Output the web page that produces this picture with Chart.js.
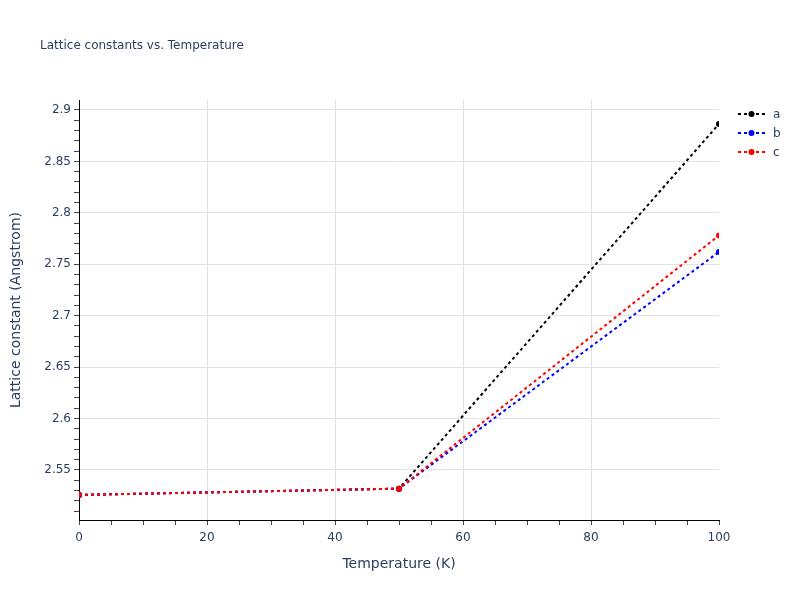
<!DOCTYPE html>
<html>
<head>
<meta charset="utf-8">
<script src="https://cdn.jsdelivr.net/npm/chart.js@4/dist/chart.umd.min.js"></script>
<style>
  body { margin: 0; background: #fff; }
  #wrap { width: 800px; height: 600px; }
</style>
</head>
<body>
<div id="wrap"><canvas id="plot-lattice" width="800" height="600"></canvas></div>
<script>
// values
const temps = [0, 50, 100];
const latticeA = [2.5257, 2.5318, 2.8864];
const latticeB = [2.5257, 2.5318, 2.7620];
const latticeC = [2.5257, 2.5318, 2.7780];

const seriesNames = ['a', 'b', 'c'];
const seriesColors = ['#000000', '#0000ff', '#ff0000'];

const xLabelTicks = [0, 20, 40, 60, 80, 100];
const yLabelTicks = [2.55, 2.6, 2.65, 2.7, 2.75, 2.8, 2.85, 2.9];

const textColor = '#2a3f5f';
const fontFamily = '"DejaVu Sans", verdana, arial, sans-serif';

function toPoints(ys) {
    return temps.map((t, i) => ({ x: t, y: ys[i] }));
}

// minor tick positions: every 5 K and every 0.01 A
const xMinor = [];
for (let v = 0; v <= 100; v += 5) xMinor.push(v);
const yMinor = [];
for (let k = 251; k <= 290; k++) yMinor.push(k / 100);

function isIn(list, v) {
    return list.some(t => Math.abs(t - v) < 1e-6);
}

const titlePlugin = {
    id: 'plotTitle',
    afterDraw(chart) {
        const c = chart.ctx;
        c.save();
        c.font = '12px ' + fontFamily;
        c.fillStyle = textColor;
        c.textAlign = 'left';
        c.textBaseline = 'middle';
        c.fillText('Lattice constants vs. Temperature', 40, 46);
        c.restore();
    }
};

const legendPlugin = {
    id: 'sideLegend',
    afterDraw(chart) {
        const c = chart.ctx;
        c.save();
        seriesNames.forEach((name, i) => {
            const y = 114 + i * 19;
            c.strokeStyle = seriesColors[i];
            c.lineWidth = 2;
            c.setLineDash([3, 3]);
            c.beginPath();
            c.moveTo(738, y);
            c.lineTo(765, y);
            c.stroke();
            c.setLineDash([]);
            c.fillStyle = seriesColors[i];
            c.beginPath();
            c.arc(751.5, y, 3, 0, Math.PI * 2);
            c.fill();
            c.font = '12px ' + fontFamily;
            c.fillStyle = textColor;
            c.textAlign = 'left';
            c.textBaseline = 'middle';
            c.fillText(name, 773, y + 1);
        });
        c.restore();
    }
};

const allSeries = [latticeA, latticeB, latticeC];

var ctx = document.getElementById('plot-lattice').getContext('2d');
var chart = new Chart(ctx, {
    type: 'line',
    data: {
        datasets: allSeries.map((ys, i) => ({
            label: seriesNames[i],
            data: toPoints(ys),
            borderColor: seriesColors[i],
            backgroundColor: seriesColors[i],
            borderWidth: 2,
            borderDash: [3, 3],
            pointRadius: 3,
            pointBorderWidth: 0,
            pointHoverRadius: 3,
            fill: false,
            tension: 0,
            clip: 0,
            order: 3 - i
        }))
    },
    options: {
        responsive: false,
        animation: false,
        devicePixelRatio: 1,
        layout: {
            padding: { left: 0, right: 81, top: 100, bottom: 20 }
        },
        plugins: {
            legend: { display: false },
            title: { display: false },
            tooltip: { enabled: false }
        },
        scales: {
            x: {
                type: 'linear',
                min: 0,
                max: 100,
                afterFit(scale) { scale.height = 60; },
                afterBuildTicks(scale) {
                    scale.ticks = xMinor.map(v => ({ value: v }));
                },
                border: { display: true, color: '#000000', width: 1 },
                grid: {
                    color(c) {
                        const v = c.tick ? c.tick.value : null;
                        return (v !== null && v > 0 && v < 100 && isIn(xLabelTicks, v)) ? '#e2e2e2' : 'rgba(0,0,0,0)';
                    },
                    tickColor: '#444444',
                    tickLength: 5,
                    lineWidth: 1
                },
                ticks: {
                    autoSkip: false,
                    maxRotation: 0,
                    padding: 6,
                    color: textColor,
                    font: { family: fontFamily, size: 12 },
                    callback(v) { return isIn(xLabelTicks, v) ? String(v) : ''; }
                },
                title: {
                    display: true,
                    text: 'Temperature (K)',
                    color: textColor,
                    font: { family: fontFamily, size: 14 },
                    padding: { top: 0, bottom: 7 }
                }
            },
            y: {
                type: 'linear',
                min: 2.5013,
                max: 2.9097,
                afterFit(scale) { scale.width = 79; },
                afterBuildTicks(scale) {
                    scale.ticks = yMinor.map(v => ({ value: v }));
                },
                border: { display: true, color: '#000000', width: 1 },
                grid: {
                    color(c) {
                        const v = c.tick ? c.tick.value : null;
                        return (v !== null && isIn(yLabelTicks, v)) ? '#e2e2e2' : 'rgba(0,0,0,0)';
                    },
                    tickColor: '#444444',
                    tickLength: 5,
                    lineWidth: 1
                },
                ticks: {
                    autoSkip: false,
                    padding: 3,
                    color: textColor,
                    font: { family: fontFamily, size: 12 },
                    callback(v) { return isIn(yLabelTicks, v) ? String(+v.toFixed(2)) : ''; }
                },
                title: {
                    display: true,
                    text: 'Lattice constant (Angstrom)',
                    color: textColor,
                    font: { family: fontFamily, size: 14 },
                    padding: { top: 8, bottom: 0 }
                }
            }
        }
    },
    plugins: [titlePlugin, legendPlugin]
});
</script>
</body>
</html>
